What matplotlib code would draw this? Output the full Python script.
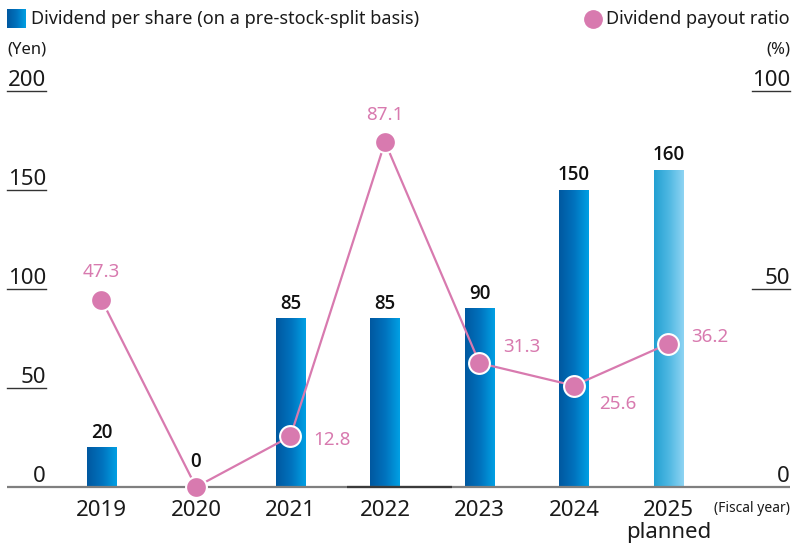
import numpy as np
import matplotlib
matplotlib.use("Agg")
import matplotlib.pyplot as plt
from matplotlib.colors import LinearSegmentedColormap
import matplotlib.transforms as mtransforms

years = ["2019", "2020", "2021", "2022", "2023", "2024", "2025"]
sub_labels = ["", "", "", "", "", "", "planned"]
dividend = [20, 0, 85, 85, 90, 150, 160]
payout = [47.3, 0, 12.8, 87.1, 31.3, 25.6, 36.2]
planned = [False, False, False, False, False, False, True]
left_ticks = [0, 50, 100, 150, 200]
right_ticks = [0, 50, 100]

PINK = "#d87aaf"
AX_GRAY = "#7f7f7f"
plt.rcParams["font.family"] = ["Noto Sans", "DejaVu Sans"]
BOLD_FAM = ["Open Sans", "DejaVu Sans"]

W, H = 799, 546
fig = plt.figure(figsize=(W / 100, H / 100), dpi=100)
ax = fig.add_axes([7 / W, 1 - 487 / H, (790 - 7) / W, (487 - 91) / H])
ax.set_xlim(-1.0, 7.286)
ax.set_ylim(0, 200)
ax.axis("off")
ax2 = ax.twinx()
ax2.set_ylim(0, 100)
ax2.axis("off")

cm_dark = LinearSegmentedColormap.from_list("d", ["#0058a0", "#0072bd", "#00a0e4"])
cm_light = LinearSegmentedColormap.from_list("l", ["#22a0d2", "#4fb8e2", "#8fd4f3"])
grad = np.linspace(0, 1, 256).reshape(1, -1)
bw = 0.307
xs = np.arange(len(years))
for x, v, p in zip(xs, dividend, planned):
    if v > 0:
        ax.imshow(grad, cmap=cm_light if p else cm_dark, aspect="auto",
                  extent=(x - bw / 2, x + bw / 2, 0, v), zorder=2,
                  interpolation="bilinear")
    ax.annotate(str(v), (x, v), xytext=(0, 10.5 if v == 0 else 3.5),
                textcoords="offset points", ha="center", va="bottom",
                fontsize=13.5, fontweight="semibold", family=BOLD_FAM, color="#111111")
ax.set_xlim(-1.0, 7.286)
ax.set_ylim(0, 200)

# axis line
ax.plot([-1.0, 7.286], [0, 0], color=AX_GRAY, lw=1.6, zorder=3, clip_on=False,
        solid_capstyle="butt")
ax.plot([2.6, 3.71], [0, 0], color="#3a3a3a", lw=1.6, zorder=3, clip_on=False,
        solid_capstyle="butt")

# payout line
ax2.plot(xs, payout, color=PINK, lw=1.6, zorder=4, clip_on=False,
         marker="o", ms=15, mfc=PINK, mec="white", mew=1.5)
offsets = [(0, 20), None, (30, -3), (0, 19.5), (30.5, 11.5), (31.5, -13.5), (29.5, 4.5)]
for x, v, off in zip(xs, payout, offsets):
    if off is None:
        continue
    ax2.annotate(f"{v}", (x, v), xytext=off, textcoords="offset points",
                 ha="center", va="center", fontsize=13.5, color=PINK)

# tick labels with underlines
tl = mtransforms.blended_transform_factory(fig.transFigure, ax.transData)
tr = mtransforms.blended_transform_factory(fig.transFigure, ax2.transData)
for t in left_ticks:
    ax.text(46 / W, t, f"{t}", transform=tl, ha="right", va="bottom",
            fontsize=16, color="#1a1a1a")
    if t != 0:
        ax.plot([7 / W, 46 / W], [t, t], transform=tl, color="#333333", lw=1.0,
                clip_on=False)
for t in right_ticks:
    ax2.text(790 / W, t, f"{t}", transform=tr, ha="right", va="bottom",
             fontsize=16, color="#1a1a1a")
    if t != 0:
        ax2.plot([752 / W, 790 / W], [t, t], transform=tr, color="#333333", lw=1.0,
                 clip_on=False)

fig.text(7 / W, 1 - 50 / H, "(Yen)", ha="left", va="center", fontsize=12, color="#1a1a1a")
fig.text(790 / W, 1 - 50 / H, "(%)", ha="right", va="center", fontsize=12, color="#1a1a1a")

# x labels
for x, y, s in zip(xs, years, sub_labels):
    ax.annotate(y, (x, 0), xytext=(0, -9), textcoords="offset points",
                ha="center", va="top", fontsize=16, color="#1a1a1a")
    if s:
        ax.annotate(s, (x, 0), xytext=(0, -25.5), textcoords="offset points",
                    ha="center", va="top", fontsize=16, color="#1a1a1a")
fig.text(790 / W, 1 - 508 / H, "(Fiscal year)", ha="right", va="center",
         fontsize=10, color="#1a1a1a")

# legend
lax = fig.add_axes([7 / W, 1 - 28 / H, 19 / W, 19 / H])
lax.imshow(grad, cmap=cm_dark, aspect="auto", interpolation="bilinear")
lax.axis("off")
fig.text(31 / W, 1 - 19 / H, "Dividend per share (on a pre-stock-split basis)",
         ha="left", va="center", fontsize=13, color="#1a1a1a")
fig.lines.append(plt.Line2D([593 / W], [1 - 19 / H], transform=fig.transFigure,
                            marker="o", ms=12.5, mfc=PINK, mec=PINK, ls=""))
fig.text(790 / W, 1 - 19 / H, "Dividend payout ratio", ha="right", va="center",
         fontsize=13, color="#1a1a1a")

fig.savefig("out.png", dpi=100)
